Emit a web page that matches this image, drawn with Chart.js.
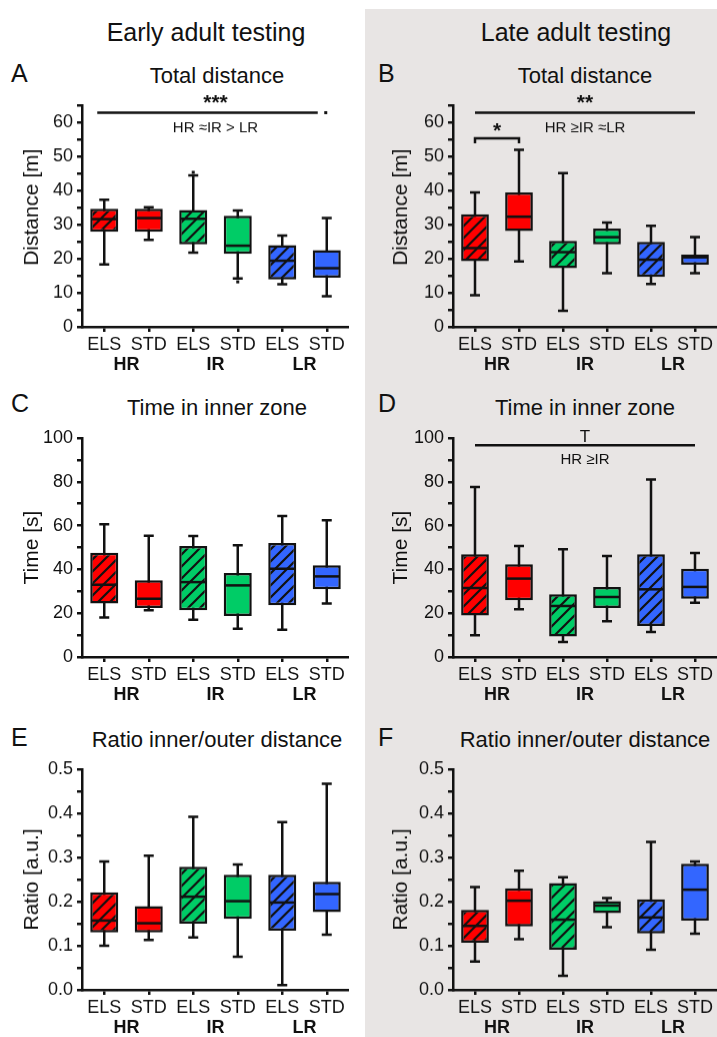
<!DOCTYPE html>
<html>
<head>
<meta charset="utf-8">
<script src="https://cdn.jsdelivr.net/npm/chart.js@4.4.1/dist/chart.umd.min.js"></script>
<style>
  html, body { margin: 0; padding: 0; }
  body { width: 717px; height: 1037px; overflow: hidden; position: relative; background: #fff;
         font-family: "Liberation Sans", Arial, sans-serif; color: #111; }
  .late-bg { position: absolute; left: 365px; top: 9px; width: 352px; height: 1028px; background: #e8e5e4; }
  .lbl { position: absolute; line-height: 1; white-space: nowrap; transform: translate(-50%, -50%); }
  .letter { position: absolute; line-height: 1; font-size: 25px; transform: translateY(-50%); }
  canvas { position: absolute; }
</style>
</head>
<body>
<div class="late-bg"></div>

<div class="lbl" style="left:206px;top:32px;font-size:25px">Early adult testing</div>
<div class="lbl" style="left:576px;top:32px;font-size:25px">Late adult testing</div>

<div class="letter" style="left:11px;top:73px">A</div>
<div class="letter" style="left:378px;top:73px">B</div>
<div class="letter" style="left:11px;top:403px">C</div>
<div class="letter" style="left:378px;top:403px">D</div>
<div class="letter" style="left:11px;top:737px">E</div>
<div class="letter" style="left:378px;top:737px">F</div>

<div class="lbl" style="left:217px;top:76px;font-size:22px">Total distance</div>
<div class="lbl" style="left:585px;top:76px;font-size:22px">Total distance</div>
<div class="lbl" style="left:217px;top:408px;font-size:22px">Time in inner zone</div>
<div class="lbl" style="left:585px;top:408px;font-size:22px">Time in inner zone</div>
<div class="lbl" style="left:217px;top:740px;font-size:22px">Ratio inner/outer distance</div>
<div class="lbl" style="left:585px;top:740px;font-size:22px">Ratio inner/outer distance</div>

<canvas id="cA"></canvas>
<canvas id="cB"></canvas>
<canvas id="cC"></canvas>
<canvas id="cD"></canvas>
<canvas id="cE"></canvas>
<canvas id="cF"></canvas>

<script>
const tickLabels = ["ELS", "STD", "ELS", "STD", "ELS", "STD"]
const groupLabels = ["HR", "IR", "LR"]
const boxColors = ["#ff0000", "#ff0000", "#00cc66", "#00cc66", "#3366ff", "#3366ff"]
const hatched = [true, false, true, false, true, false]

// A: total distance, early
const distEarlyMin = [18.3, 25.5, 21.8, 14.2, 12.5, 9.0]
const distEarlyQ1  = [27.9, 27.9, 24.2, 21.4, 13.9, 14.4]
const distEarlyMed = [31.6, 31.9, 31.7, 23.8, 19.4, 17.2]
const distEarlyQ3  = [34.6, 34.6, 34.3, 32.6, 24.0, 22.5]
const distEarlyMax = [37.3, 35.1, 44.4, 34.1, 26.8, 31.9]

// B: total distance, late
const distLateMin = [9.3, 19.2, 4.7, 15.7, 12.6, 15.7]
const distLateQ1  = [19.3, 28.1, 17.2, 24.2, 14.6, 18.2]
const distLateMed = [23.1, 32.3, 21.9, 26.3, 19.7, 20.4]
const distLateQ3  = [33.0, 39.4, 25.2, 28.8, 24.9, 21.2]
const distLateMax = [39.4, 51.9, 45.1, 30.6, 29.6, 26.3]

// C: time in inner zone, early
const timeEarlyMin = [18.0, 21.3, 17.0, 12.9, 12.5, 24.4]
const timeEarlyQ1  = [24.4, 22.4, 21.3, 18.7, 23.6, 30.9]
const timeEarlyMed = [33.0, 26.6, 34.2, 32.7, 40.3, 36.8]
const timeEarlyQ3  = [47.6, 35.0, 50.7, 38.4, 52.1, 41.9]
const timeEarlyMax = [60.6, 55.4, 55.3, 51.0, 64.4, 62.4]

// D: time in inner zone, late
const timeLateMin = [9.9, 21.8, 6.8, 16.3, 11.4, 24.8]
const timeLateQ1  = [19.0, 25.9, 9.4, 22.4, 14.2, 26.6]
const timeLateMed = [31.5, 35.8, 23.3, 27.4, 30.9, 32.0]
const timeLateQ3  = [46.9, 42.3, 28.6, 32.0, 46.9, 40.3]
const timeLateMax = [77.6, 50.7, 49.2, 46.1, 81.1, 47.5]

// E: ratio inner/outer, early
const ratioEarlyMin = [0.100, 0.113, 0.119, 0.075, 0.011, 0.125]
const ratioEarlyQ1  = [0.130, 0.130, 0.150, 0.161, 0.134, 0.176]
const ratioEarlyMed = [0.157, 0.151, 0.211, 0.201, 0.198, 0.217]
const ratioEarlyQ3  = [0.221, 0.190, 0.279, 0.261, 0.261, 0.245]
const ratioEarlyMax = [0.291, 0.304, 0.392, 0.284, 0.380, 0.467]

// F: ratio inner/outer, late
const ratioLateMin = [0.064, 0.115, 0.032, 0.142, 0.091, 0.127]
const ratioLateQ1  = [0.107, 0.144, 0.091, 0.174, 0.128, 0.157]
const ratioLateMed = [0.145, 0.202, 0.159, 0.191, 0.164, 0.227]
const ratioLateQ3  = [0.181, 0.230, 0.242, 0.201, 0.205, 0.286]
const ratioLateMax = [0.233, 0.270, 0.255, 0.208, 0.335, 0.291]

const FONT = "'Liberation Sans', Arial, sans-serif"
const INK = "#111"

function hatchPattern(color) {
  const s = 12
  const c = document.createElement("canvas")
  c.width = s; c.height = s
  const g = c.getContext("2d")
  g.fillStyle = color
  g.fillRect(0, 0, s, s)
  g.strokeStyle = INK
  g.lineWidth = 2.2
  g.beginPath()
  g.moveTo(-2, s + 2); g.lineTo(s + 2, -2)
  g.moveTo(-2, 2); g.lineTo(2, -2)
  g.moveTo(s - 2, s + 2); g.lineTo(s + 2, s - 2)
  g.stroke()
  return document.createElement("canvas").getContext("2d").createPattern(c, "repeat")
}

// whiskers under the boxes, medians + annotations on top
const boxPlot = {
  id: "boxPlot",
  beforeDatasetsDraw(chart, args, opts) {
    const { ctx } = chart
    const y = chart.scales.y
    const meta = chart.getDatasetMeta(0)
    ctx.save()
    ctx.strokeStyle = INK
    ctx.lineWidth = 2.5
    meta.data.forEach((bar, i) => {
      const top = y.getPixelForValue(opts.max[i])
      const bot = y.getPixelForValue(opts.min[i])
      const cap = 5
      ctx.beginPath()
      ctx.moveTo(bar.x, top); ctx.lineTo(bar.x, bot)
      ctx.moveTo(bar.x - cap, top); ctx.lineTo(bar.x + cap, top)
      ctx.moveTo(bar.x - cap, bot); ctx.lineTo(bar.x + cap, bot)
      ctx.stroke()
    })
    ctx.restore()
  },
  afterDatasetsDraw(chart, args, opts) {
    const { ctx } = chart
    const x = chart.scales.x
    const y = chart.scales.y
    const meta = chart.getDatasetMeta(0)
    ctx.save()
    ctx.strokeStyle = INK
    ctx.lineWidth = 2.5
    meta.data.forEach((bar, i) => {
      const m = y.getPixelForValue(opts.med[i])
      ctx.beginPath()
      ctx.moveTo(bar.x - bar.width / 2 + 1, m); ctx.lineTo(bar.x + bar.width / 2 - 1, m)
      ctx.stroke()
    })

    // group labels under the axis
    ctx.fillStyle = INK
    ctx.font = "bold 18px " + FONT
    ctx.textAlign = "center"
    ctx.textBaseline = "middle"
    groupLabels.forEach((g, k) => {
      const cx = (x.getPixelForValue(2 * k) + x.getPixelForValue(2 * k + 1)) / 2
      ctx.fillText(g, cx, x.top + 38)
    })

    // significance marks
    ;(opts.lines || []).forEach(l => {
      const yy = y.getPixelForValue(l.v)
      ctx.lineWidth = 2.5
      ctx.beginPath()
      const x0 = x.getPixelForValue(l.i0) + (l.d0 || 0)
      const x1 = x.getPixelForValue(l.i1) + (l.d1 || 0)
      if (l.leg) {
        const yl = yy + l.leg
        ctx.moveTo(x0, yl); ctx.lineTo(x0, yy); ctx.lineTo(x1, yy); ctx.lineTo(x1, yl)
      } else {
        ctx.moveTo(x0, yy); ctx.lineTo(x1, yy)
      }
      ctx.stroke()
    })
    ;(opts.dots || []).forEach(d => {
      const px = x.getPixelForValue(d.i) + (d.d || 0)
      ctx.fillRect(px - 1.5, y.getPixelForValue(d.v) - 1.5, 3, 3)
    })
    ;(opts.texts || []).forEach(t => {
      ctx.font = t.font + " " + FONT
      const px = (x.getPixelForValue(t.i0) + x.getPixelForValue(t.i1)) / 2 + (t.d || 0)
      ctx.fillText(t.text, px, y.getPixelForValue(t.v))
    })
    ctx.restore()
  }
}

function makePanel(id, geo, axis, stats, marks) {
  const canvas = document.getElementById(id)
  const padTop = 50, axisH = 52
  const w = geo.right - geo.canvasLeft
  const h = (geo.bottom - geo.top) + padTop + axisH
  canvas.width = w; canvas.height = h
  canvas.style.left = geo.canvasLeft + "px"
  canvas.style.top = (geo.top - padTop) + "px"
  canvas.style.width = w + "px"; canvas.style.height = h + "px"

  new Chart(canvas, {
    type: "bar",
    data: {
      labels: tickLabels,
      datasets: [{
        data: stats.q1.map((q, i) => [q, stats.q3[i]]),
        backgroundColor: boxColors.map((c, i) => hatched[i] ? hatchPattern(c) : c),
        borderColor: INK,
        borderWidth: 2.5,
        borderSkipped: false,
        barPercentage: 0.63,
        categoryPercentage: 1
      }]
    },
    options: {
      responsive: false,
      animation: false,
      devicePixelRatio: 1,
      layout: { padding: { top: padTop, left: geo.padLeft, right: 0, bottom: 0 } },
      plugins: {
        legend: { display: false },
        tooltip: { enabled: false },
        boxPlot: { min: stats.min, med: stats.med, max: stats.max, ...marks }
      },
      scales: {
        x: {
          offset: true,
          grid: { offset: false, drawOnChartArea: false, drawTicks: true, tickLength: 5, color: INK, lineWidth: 2.5 },
          border: { display: true, color: INK, width: 2.5 },
          ticks: { color: INK, font: { family: FONT, size: 18 }, padding: 2, autoSkip: false, maxRotation: 0 },
          afterFit: s => { s.height = axisH }
        },
        y: {
          min: 0, max: axis.max,
          grid: { drawOnChartArea: false, drawTicks: true, tickLength: 5, color: INK, lineWidth: 2.5 },
          border: { display: true, color: INK, width: 2.5 },
          ticks: {
            stepSize: axis.step, autoSkip: false, color: INK, padding: 4,
            font: { family: FONT, size: 18 },
            callback: v => {
              const n = Math.round(v / axis.step)
              return n % 2 === 0 ? axis.fmt(v) : ""
            }
          },
          title: { display: true, text: axis.title, color: INK, font: { family: FONT, size: 21 }, padding: { top: 4, bottom: 4 } },
          afterFit: s => { s.width = geo.left - geo.canvasLeft - geo.padLeft }
        }
      }
    },
    plugins: [boxPlot]
  })
}

const leftCol  = { canvasLeft: 0,   padLeft: 16, left: 82,  right: 349 }
const rightCol = { canvasLeft: 370, padLeft: 15, left: 453, right: 717 }
const row1 = { top: 105,   bottom: 326.6 }
const row2 = { top: 437.7, bottom: 656.7 }
const row3 = { top: 769.3, bottom: 990 }

const distAxis  = { max: 65,  step: 5,    title: "   Distance [m]", fmt: v => String(Math.round(v)) }
const timeAxis  = { max: 100, step: 10,   title: "Time [s]",     fmt: v => String(Math.round(v)) }
const ratioAxis = { max: 0.5, step: 0.05, title: "Ratio [a.u.]", fmt: v => v.toFixed(1) }

makePanel("cA", { ...leftCol, ...row1 }, distAxis,
  { min: distEarlyMin, q1: distEarlyQ1, med: distEarlyMed, q3: distEarlyQ3, max: distEarlyMax },
  {
    lines: [{ i0: 0, i1: 5, d0: -7, d1: -9, v: 62.8 }],
    dots: [{ i: 5, d: -1, v: 62.8 }, { i: 2, v: 45.3 }, { i: 3, v: 13.2 }],
    texts: [
      { i0: 2, i1: 3, v: 65.4, text: "***", font: "bold 21px" },
      { i0: 2, i1: 3, v: 58.2, text: "HR \u2248IR > LR", font: "15px" }
    ]
  })

makePanel("cB", { ...rightCol, ...row1 }, distAxis,
  { min: distLateMin, q1: distLateQ1, med: distLateMed, q3: distLateQ3, max: distLateMax },
  {
    lines: [
      { i0: 0, i1: 5, v: 62.8 },
      { i0: 0, i1: 1, v: 55.3, leg: 5 }
    ],
    texts: [
      { i0: 2, i1: 3, v: 65.4, text: "**", font: "bold 21px" },
      { i0: 2, i1: 3, v: 58.2, text: "HR \u2265IR \u2248LR", font: "15px" },
      { i0: 0, i1: 1, v: 57.4, text: "*", font: "bold 21px" }
    ]
  })

makePanel("cC", { ...leftCol, ...row2 }, timeAxis,
  { min: timeEarlyMin, q1: timeEarlyQ1, med: timeEarlyMed, q3: timeEarlyQ3, max: timeEarlyMax },
  {})

makePanel("cD", { ...rightCol, ...row2 }, timeAxis,
  { min: timeLateMin, q1: timeLateQ1, med: timeLateMed, q3: timeLateQ3, max: timeLateMax },
  {
    lines: [{ i0: 0, i1: 5, v: 96.7 }],
    texts: [
      { i0: 2, i1: 3, v: 100.2, text: "T", font: "17px" },
      { i0: 2, i1: 3, v: 89.8, text: "HR \u2265IR", font: "15px" }
    ]
  })

makePanel("cE", { ...leftCol, ...row3 }, ratioAxis,
  { min: ratioEarlyMin, q1: ratioEarlyQ1, med: ratioEarlyMed, q3: ratioEarlyQ3, max: ratioEarlyMax },
  {})

makePanel("cF", { ...rightCol, ...row3 }, ratioAxis,
  { min: ratioLateMin, q1: ratioLateQ1, med: ratioLateMed, q3: ratioLateQ3, max: ratioLateMax },
  {})
</script>
</body>
</html>
